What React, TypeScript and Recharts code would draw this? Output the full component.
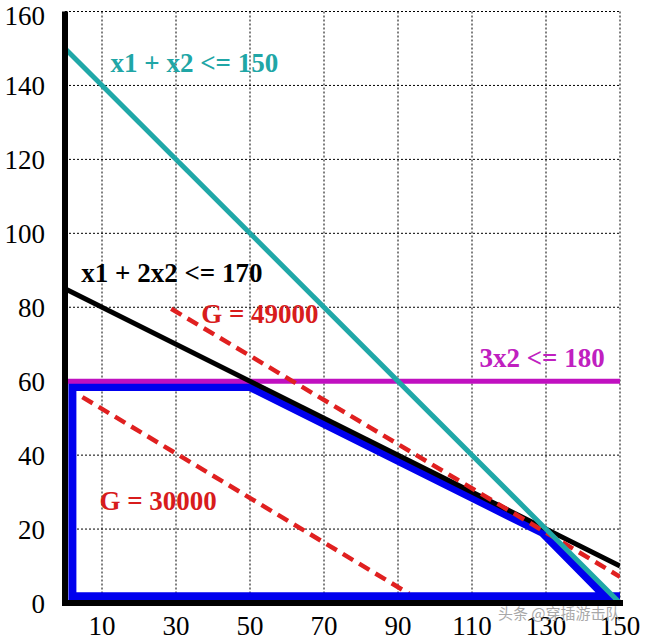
import React from "react";
import {
  LineChart,
  Line,
  XAxis,
  YAxis,
  CartesianGrid,
  ReferenceDot,
} from "recharts";

// Axis ticks
const xTicks = [10, 30, 50, 70, 90, 110, 130, 150];
const yTicks = [0, 20, 40, 60, 80, 100, 120, 140, 160];

// Constraint lines
const constraintX1X2 = [
  { x: 0, y: 150 },
  { x: 150, y: 0 },
]; // x1 + x2 <= 150
const constraintX1_2X2 = [
  { x: 0, y: 85 },
  { x: 150, y: 10 },
]; // x1 + 2x2 <= 170
const constraint3X2 = [
  { x: 0, y: 60 },
  { x: 150, y: 60 },
]; // 3x2 <= 180

// Iso-profit lines
const iso30000 = [
  { x: 4.7, y: 55.7 },
  { x: 93, y: 2.5 },
];
const iso49000 = [
  { x: 28.7, y: 79.6 },
  { x: 150, y: 7.1 },
];

// Feasible region outline
const feasible = [
  { x: 150, y: 1.8 },
  { x: 2, y: 1.8 },
  { x: 2, y: 58.4 },
  { x: 50, y: 58.4 },
  { x: 129, y: 19 },
  { x: 146, y: 1.8 },
];

// Annotations (text, anchor in data coordinates, colour)
const annotations = [
  { text: "x1 + x2 <= 150", x: 12.3, y: 143.5, color: "#20a6a6" },
  { text: "x1 + 2x2 <= 170", x: 4.4, y: 86.8, color: "#000000" },
  { text: "G = 49000", x: 36.8, y: 75.7, color: "#d81c1c" },
  { text: "3x2 <= 180", x: 112, y: 63.9, color: "#c020c0" },
  { text: "G = 30000", x: 9.3, y: 25.1, color: "#d81c1c" },
];

const SERIF =
  '"Liberation Serif", Tinos, "Times New Roman", Times, "DejaVu Serif", serif';

const AnnLabel = (props: any) => {
  const { viewBox, text, color } = props;
  if (!viewBox) return null;
  return (
    <text
      x={viewBox.x}
      y={viewBox.y}
      fill={color}
      fontWeight="bold"
      fontSize={27}
      textAnchor="start"
      style={{ fontFamily: SERIF }}
    >
      {text}
    </text>
  );
};

export default function App() {
  return (
    <div
      style={{
        position: "absolute",
        left: 0,
        top: 0,
        width: 646,
        height: 640,
        background: "#fff",
        fontFamily: SERIF,
      }}
    >
      <LineChart
        width={646}
        height={640}
        margin={{ top: 11.5, right: 26, bottom: 0, left: 0 }}
        style={{ fontFamily: SERIF }}
      >
        <CartesianGrid
          stroke="#000"
          strokeWidth={1}
          strokeDasharray="2 2"
        />
        <XAxis
          dataKey="x"
          type="number"
          domain={[0, 150]}
          ticks={xTicks}
          height={37}
          tickSize={0}
          tickMargin={13}
          axisLine={{ stroke: "#000", strokeWidth: 6, strokeLinecap: "square" }}
          tickLine={false}
          tick={{ fill: "#000", fontSize: 27, style: { fontFamily: SERIF } }}
          allowDataOverflow
        />
        <YAxis
          type="number"
          domain={[0, 160]}
          ticks={yTicks}
          width={65}
          tickSize={0}
          tickMargin={20}
          axisLine={{ stroke: "#000", strokeWidth: 6 }}
          tickLine={false}
          tick={{ fill: "#000", fontSize: 27, style: { fontFamily: SERIF } }}
          allowDataOverflow
        />
        <Line
          data={iso30000}
          dataKey="y"
          type="linear"
          stroke="#e02020"
          strokeWidth={4.5}
          strokeDasharray="12 7"
          dot={false}
          activeDot={false}
          isAnimationActive={false}
        />
        <Line
          data={feasible}
          dataKey="y"
          type="linear"
          stroke="#0000ee"
          strokeWidth={8}
          strokeLinejoin="miter"
          dot={false}
          activeDot={false}
          isAnimationActive={false}
        />
        <Line
          data={constraint3X2}
          dataKey="y"
          type="linear"
          stroke="#c010c0"
          strokeWidth={5}
          dot={false}
          activeDot={false}
          isAnimationActive={false}
        />
        <Line
          data={constraintX1_2X2}
          dataKey="y"
          type="linear"
          stroke="#000"
          strokeWidth={5}
          dot={false}
          activeDot={false}
          isAnimationActive={false}
        />
        <Line
          data={iso49000}
          dataKey="y"
          type="linear"
          stroke="#e02020"
          strokeWidth={4.5}
          strokeDasharray="12 7"
          dot={false}
          activeDot={false}
          isAnimationActive={false}
        />
        <Line
          data={constraintX1X2}
          dataKey="y"
          type="linear"
          stroke="#20a8a8"
          strokeWidth={5}
          dot={false}
          activeDot={false}
          isAnimationActive={false}
        />
        {annotations.map((a) => (
          <ReferenceDot
            key={a.text}
            x={a.x}
            y={a.y}
            r={0}
            fill="none"
            stroke="none"
            ifOverflow="visible"
            label={<AnnLabel text={a.text} color={a.color} />}
          />
        ))}
      </LineChart>
      <div
        style={{
          position: "absolute",
          left: 498,
          top: 605,
          fontFamily: "'Noto Sans CJK SC', sans-serif",
          fontSize: 15,
          lineHeight: "16px",
          color: "#a8a8a8",
          whiteSpace: "nowrap",
        }}
      >
        头条 @穿插游击队
      </div>
    </div>
  );
}
